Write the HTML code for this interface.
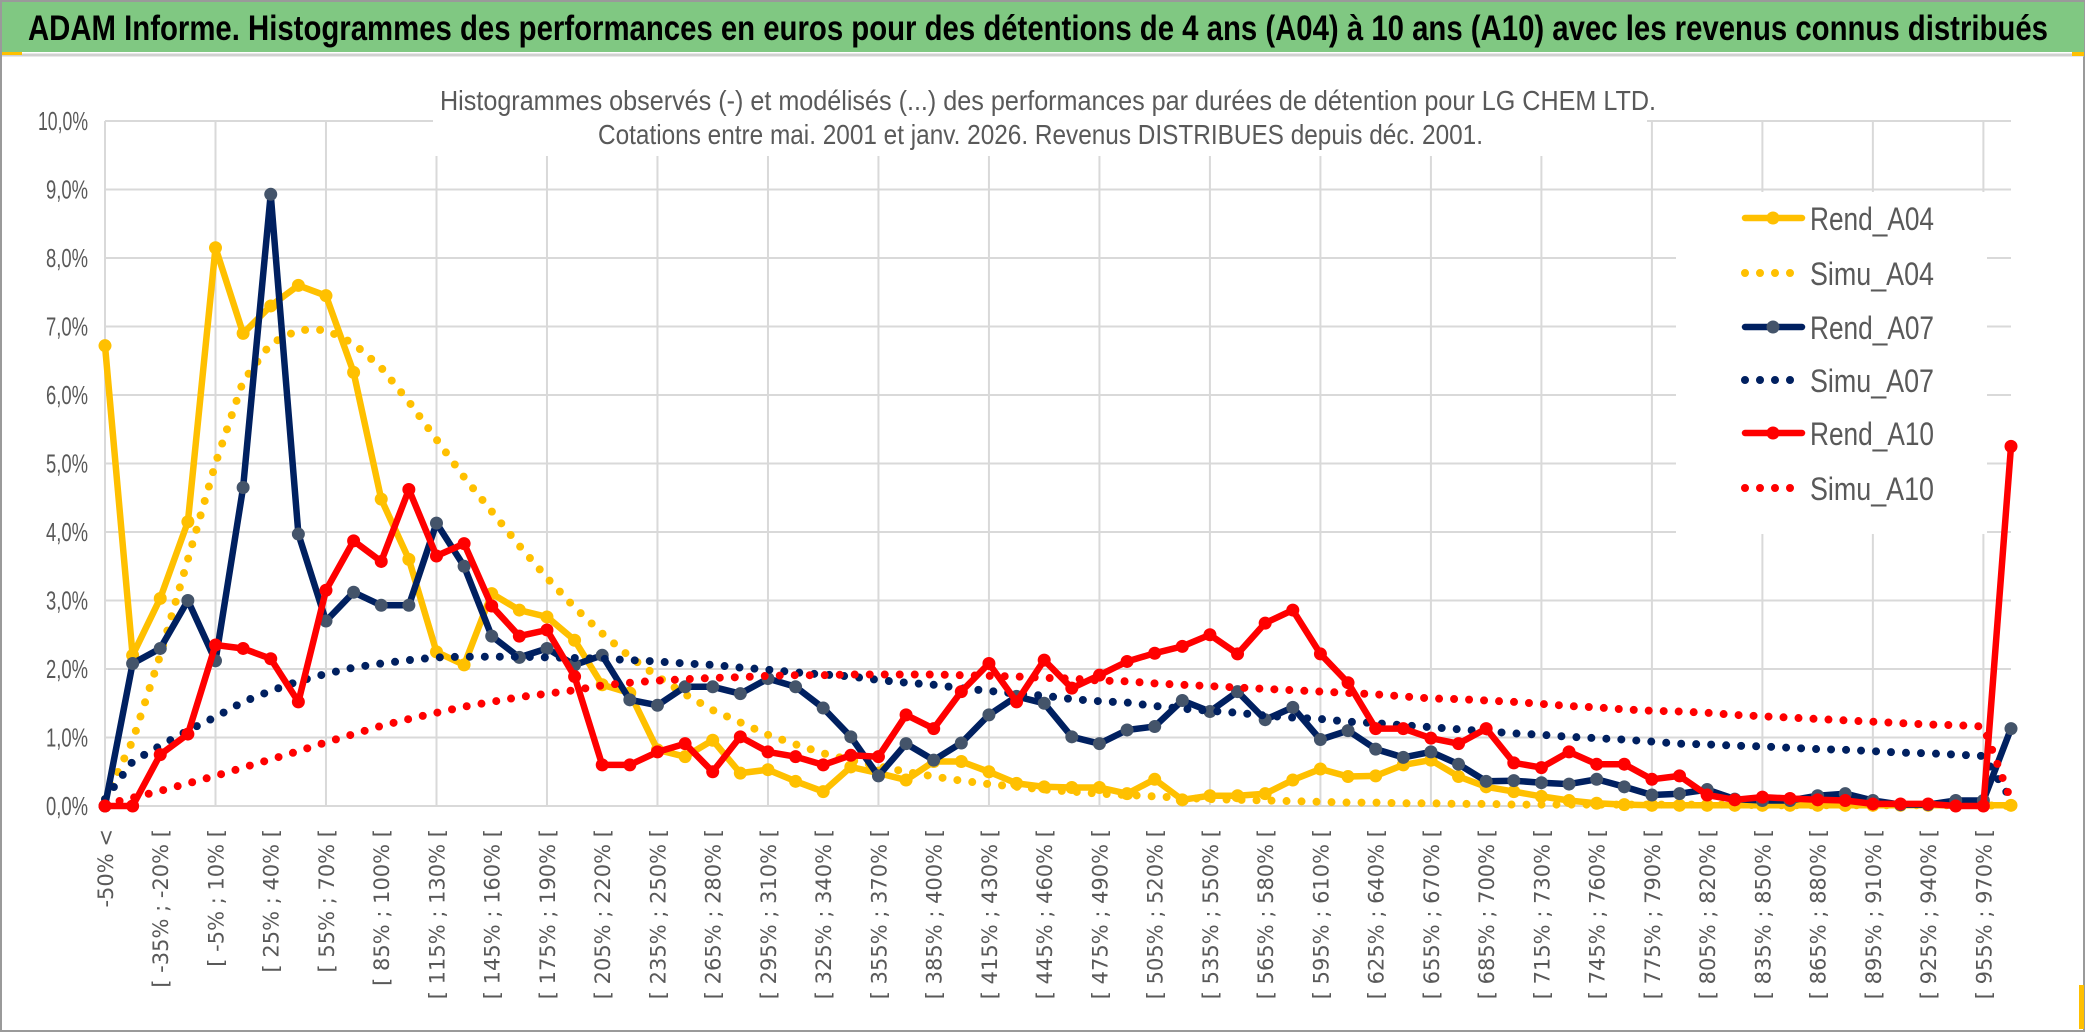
<!DOCTYPE html>
<html><head><meta charset="utf-8">
<style>
html,body{margin:0;padding:0;background:#fff;}
svg{display:block;}
</style></head>
<body>
<svg id="chart" width="2086" height="1033" viewBox="0 0 2086 1033" xmlns="http://www.w3.org/2000/svg">
  <rect x="0" y="0" width="2086" height="1033" fill="#fff"/>
  <rect x="1" y="1" width="2083" height="1030" fill="none" stroke="#9a9a9a" stroke-width="2"/>
  <rect x="2" y="2" width="2082" height="50" fill="#80C882"/>
  <line x1="2" y1="55" x2="2084" y2="55" stroke="#d0d0d0" stroke-width="3"/>
  <rect x="2" y="52" width="20" height="3" fill="#FFC000"/>
  <rect x="2072" y="52" width="12" height="4" fill="#FFC000"/>
  <rect x="2079" y="985" width="5" height="44" fill="#FFC000"/>
  <text x="28" y="40" font-family="'Liberation Sans Narrow','Liberation Sans',sans-serif" font-weight="bold" font-size="35" fill="#000" textLength="2020" lengthAdjust="spacingAndGlyphs">ADAM Informe. Histogrammes des performances en euros pour des détentions de 4 ans (A04) à 10 ans (A10) avec les revenus connus distribués</text>
  <g id="grid"></g>
  <rect x="433" y="60" width="1214" height="96" fill="#fff"/>
  <text x="440" y="110" font-family="'Liberation Sans Narrow','Liberation Sans',sans-serif" font-size="28" fill="#595959" textLength="1216" lengthAdjust="spacingAndGlyphs">Histogrammes observés (-) et modélisés (...) des performances par durées de détention pour LG CHEM LTD.</text>
  <text x="598" y="144" font-family="'Liberation Sans Narrow','Liberation Sans',sans-serif" font-size="28" fill="#595959" textLength="885" lengthAdjust="spacingAndGlyphs">Cotations entre mai. 2001 et janv. 2026. Revenus DISTRIBUES depuis déc. 2001.</text>
  <g id="yaxis"></g>
  <g id="xaxis"></g>
  <rect x="1676" y="192" width="311" height="342" fill="#fff"/>
  <g id="series"></g>
  <g id="legend"></g>
</svg>
<script>
const yTicks = [0,1,2,3,4,5,6,7,8,9,10];
const rendA04 = [6.72,2.2,3.03,4.15,8.15,6.9,7.3,7.6,7.45,6.33,4.48,3.6,2.25,2.06,3.1,2.86,2.76,2.42,1.77,1.65,0.82,0.72,0.96,0.48,0.53,0.36,0.21,0.57,0.48,0.38,0.65,0.65,0.5,0.33,0.28,0.27,0.27,0.18,0.39,0.09,0.15,0.15,0.18,0.38,0.54,0.43,0.44,0.6,0.67,0.43,0.28,0.21,0.14,0.08,0.04,0.02,0.01,0.01,0.01,0.01,0.01,0.01,0.01,0.01,0.01,0.01,0.01,0.01,0.01,0.01];
const simuA04 = [0.1,0.95,2.2,3.6,5.0,6.2,6.75,6.95,6.95,6.75,6.4,5.9,5.35,4.8,4.3,3.8,3.33,2.9,2.52,2.18,1.89,1.63,1.4,1.22,1.04,0.9,0.77,0.67,0.58,0.5,0.43,0.37,0.32,0.28,0.24,0.21,0.18,0.16,0.14,0.12,0.1,0.09,0.08,0.07,0.06,0.05,0.05,0.04,0.04,0.03,0.03,0.02,0.02,0.02,0.02,0.02,0.02,0.02,0.02,0.02,0.01,0.01,0.01,0.01,0.01,0.01,0.01,0.01,0.01,0.0];
const rendA07 = [0,2.08,2.3,3.0,2.12,4.65,8.93,3.97,2.7,3.12,2.93,2.93,4.13,3.5,2.48,2.17,2.3,2.06,2.2,1.55,1.47,1.74,1.74,1.64,1.86,1.74,1.43,1.01,0.44,0.91,0.67,0.92,1.33,1.6,1.5,1.01,0.91,1.11,1.16,1.54,1.38,1.67,1.26,1.44,0.97,1.1,0.83,0.71,0.79,0.61,0.36,0.37,0.34,0.32,0.39,0.28,0.16,0.18,0.24,0.1,0.08,0.08,0.15,0.18,0.08,0.02,0.02,0.08,0.08,1.13];
const simuA07 = [0.1,0.65,0.88,1.1,1.3,1.52,1.68,1.82,1.93,2.02,2.08,2.13,2.17,2.18,2.18,2.18,2.17,2.16,2.15,2.13,2.11,2.08,2.06,2.02,1.99,1.95,1.92,1.89,1.84,1.8,1.77,1.72,1.68,1.64,1.61,1.56,1.53,1.51,1.46,1.42,1.39,1.36,1.32,1.29,1.27,1.23,1.21,1.18,1.15,1.12,1.09,1.06,1.04,1.01,0.99,0.97,0.94,0.91,0.9,0.88,0.87,0.85,0.83,0.82,0.8,0.78,0.77,0.75,0.73,0.1];
const rendA10 = [0,0,0.75,1.05,2.35,2.3,2.15,1.52,3.15,3.87,3.57,4.62,3.65,3.83,2.92,2.48,2.57,1.89,0.6,0.6,0.79,0.91,0.5,1.01,0.79,0.72,0.6,0.74,0.72,1.33,1.13,1.67,2.08,1.52,2.13,1.72,1.91,2.11,2.23,2.33,2.5,2.22,2.67,2.86,2.22,1.8,1.13,1.13,0.99,0.91,1.13,0.63,0.56,0.79,0.61,0.61,0.39,0.44,0.16,0.09,0.13,0.11,0.09,0.08,0.03,0.03,0.03,0,0,5.25];
const simuA10 = [0.02,0.12,0.22,0.33,0.44,0.56,0.68,0.8,0.93,1.05,1.17,1.27,1.36,1.45,1.52,1.59,1.64,1.69,1.76,1.8,1.83,1.85,1.87,1.88,1.9,1.91,1.91,1.92,1.92,1.92,1.92,1.91,1.9,1.89,1.87,1.86,1.83,1.82,1.79,1.77,1.75,1.73,1.71,1.69,1.67,1.65,1.63,1.6,1.57,1.56,1.54,1.52,1.49,1.46,1.44,1.41,1.39,1.38,1.36,1.33,1.31,1.29,1.27,1.25,1.23,1.21,1.19,1.18,1.16,0.08];
const categories = (function(){ const c=["-50% <"]; for(let k=1;k<70;k++){ const lo=-50+15*(k-1); c.push(k===69?"> 970%":"[ "+lo+"% ; "+(lo+15)+"% ["); } return c; })();

const NS="http://www.w3.org/2000/svg";
const X0=105, X1=2011, Y0=806, Y10=121;
const n=categories.length;
function xs(i){ return X0+(X1-X0)*i/(n-1); }
function ys(v){ return Y0-(Y0-Y10)*v/10; }
function mk(tag,attrs,parent){ const e=document.createElementNS(NS,tag); for(const k in attrs) e.setAttribute(k,attrs[k]); parent.appendChild(e); return e; }

const grid=document.getElementById('grid');
yTicks.forEach(t=>{
  const l=mk('line',{x1:X0,x2:X1,y1:ys(t),y2:ys(t),stroke:'#d9d9d9','stroke-width':2},grid);
  
  
});
for(let i=0;i<n;i+=4){
  const l=mk('line',{x1:xs(i),x2:xs(i),y1:Y10,y2:Y0,stroke:'#d9d9d9','stroke-width':2},grid);
  
  
}
const yaxis=document.getElementById('yaxis');
yTicks.forEach(t=>{
  const label=t.toFixed(1).replace('.',',')+'%';
  const tx=mk('text',{x:88,y:ys(t)+9,'text-anchor':'end','font-family':"'Liberation Sans Narrow','Liberation Sans',sans-serif",'font-size':26,fill:'#595959',textLength:(label.length>4?50:42),lengthAdjust:'spacingAndGlyphs'},yaxis);
  tx.textContent=label;
  
  
});
const xaxis=document.getElementById('xaxis');
for(let i=0;i<n;i+=2){
  const x=xs(i)+8, y=829;
  const tx=mk('text',{x:x,y:y,transform:'rotate(-90 '+x+' '+y+')','text-anchor':'end','font-family':"'DejaVu Sans',sans-serif",'font-size':21,fill:'#595959'},xaxis);
  tx.textContent=categories[i];
  
  
}
const seriesG=document.getElementById('series');
function pts(arr){ return arr.map((v,i)=>xs(i).toFixed(1)+','+ys(v).toFixed(1)).join(' '); }
function solid(arr,color,mcolor,name){
  const pl=mk('polyline',{points:pts(arr),fill:'none',stroke:color,'stroke-width':6.5,'stroke-linejoin':'round','stroke-linecap':'round'},seriesG);
  
  
  arr.forEach((v,i)=>{
    const c=mk('circle',{cx:xs(i),cy:ys(v),r:6.5,fill:mcolor},seriesG);
    
    
  });
}
function dotted(arr,color,name){
  const pl=mk('polyline',{points:pts(arr),fill:'none',stroke:color,'stroke-width':8,'stroke-dasharray':'0 15','stroke-linecap':'round','stroke-linejoin':'round'},seriesG);
  
  
}
solid(rendA04,'#FFC000','#FFC000','rend-a04');
dotted(simuA04,'#FFC000','simu-a04');
solid(rendA07,'#002060','#44546A','rend-a07');
dotted(simuA07,'#002060','simu-a07');
solid(rendA10,'#FF0000','#FF0000','rend-a10');
dotted(simuA10,'#FF0000','simu-a10');

const legend=document.getElementById('legend');
const legendItems=[['Rend_A04','#FFC000','#FFC000',false],['Simu_A04','#FFC000',null,true],['Rend_A07','#002060','#44546A',false],['Simu_A07','#002060',null,true],['Rend_A10','#FF0000','#FF0000',false],['Simu_A10','#FF0000',null,true]];
const legendY=[218,273,327,380,433,488];
legendItems.forEach((it,k)=>{
  const y=legendY[k];
  const g=mk('g',{},legend);
  
  
  if(it[3]){
    mk('line',{x1:1745,x2:1800,y1:y,y2:y,stroke:it[1],'stroke-width':8,'stroke-dasharray':'0 15','stroke-linecap':'round'},g);
  } else {
    mk('line',{x1:1745,x2:1802,y1:y,y2:y,stroke:it[1],'stroke-width':6.5,'stroke-linecap':'round'},g);
    mk('circle',{cx:1773,cy:y,r:6.5,fill:it[2]},g);
  }
  const tx=mk('text',{x:1810,y:y+12,'font-family':"'Liberation Sans Narrow','Liberation Sans',sans-serif",'font-size':32,fill:'#595959',textLength:124,lengthAdjust:'spacingAndGlyphs'},g);
  tx.textContent=it[0];
});
</script>
</body></html>
